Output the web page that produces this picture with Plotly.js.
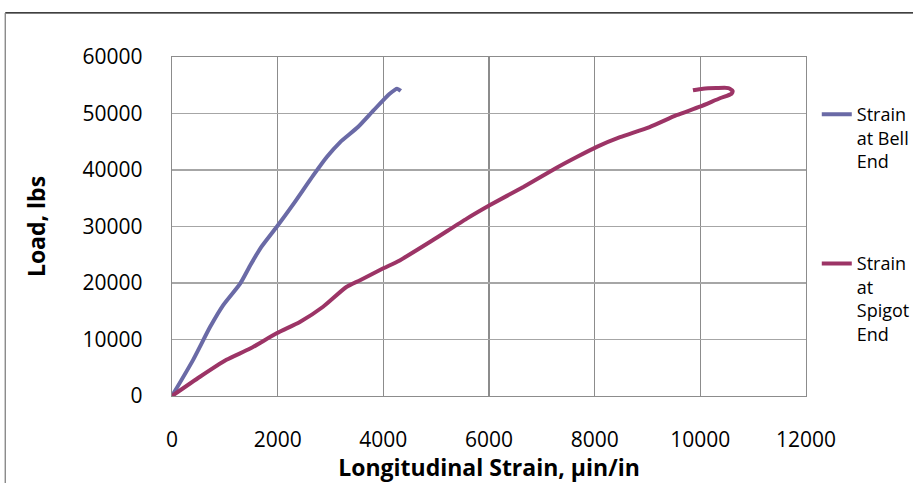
<!DOCTYPE html>
<html>
<head>
<meta charset="utf-8">
<script src="https://cdn.plot.ly/plotly-3.0.1.min.js"></script>
<style>
  html, body { margin: 0; padding: 0; background: #fff; }
  #chart { width: 913px; height: 483px; }
</style>
</head>
<body>
<div id="chart"></div>
<script>
// Strain at Bell End (µin/in) vs load (lbs)
const bellStrain = [0, 400, 720, 970, 1290, 1480, 1670, 1980, 2300, 2670, 2930, 3180, 3520, 3810, 4120, 4260, 4330];
const bellLoad   = [0, 6400, 12200, 16100, 19900, 23100, 26100, 29900, 34000, 39000, 42300, 44900, 47600, 50500, 53500, 54400, 54000];

// Strain at Spigot End (µin/in) vs load (lbs)
const spigotStrain = [0, 530, 1030, 1480, 1980, 2420, 2860, 3300, 3560, 4000, 4310, 4940, 5580, 6020, 6650, 7280, 7660, 8040, 8480, 9040, 9550, 9990, 10370, 10590, 10610, 10530, 10300, 10050, 9860];
const spigotLoad   = [0, 3400, 6400, 8400, 11100, 13100, 15800, 19300, 20500, 22600, 24000, 27600, 31400, 33800, 37000, 40400, 42300, 44100, 45800, 47600, 49700, 51200, 52700, 53500, 54000, 54500, 54500, 54400, 54100];

const seriesNames = ["Strain<br>at Bell<br>End", "Strain<br>at<br>Spigot<br>End"];
const xTicks = [0, 2000, 4000, 6000, 8000, 10000, 12000];
const yTicks = [0, 10000, 20000, 30000, 40000, 50000, 60000];

const traces = [
  {
    x: bellStrain, y: bellLoad, name: seriesNames[0], type: "scatter", mode: "lines",
    line: { color: "#6a6aa6", width: 4, shape: "spline", smoothing: 0.6 },
    legendgroup: "a"
  },
  {
    x: spigotStrain, y: spigotLoad, name: seriesNames[1], type: "scatter", mode: "lines",
    line: { color: "#9c3466", width: 4, shape: "spline", smoothing: 0.6 },
    legendgroup: "b"
  }
];

const layout = {
  width: 913, height: 483,
  margin: { l: 172, r: 107, t: 57, b: 87, autoexpand: false },
  paper_bgcolor: "#fff", plot_bgcolor: "#fff",
  font: { family: "Open Sans, sans-serif", color: "#000" },
  showlegend: true,
  legend: {
    x: 1.017, xanchor: "left", y: 0.885, yanchor: "top",
    font: { size: 18, color: "#000", family: "Open Sans, sans-serif" },
    valign: "top", traceorder: "grouped", tracegroupgap: 76,
    bgcolor: "rgba(0,0,0,0)"
  },
  xaxis: {
    range: [0, 12000], tickvals: xTicks, ticktext: xTicks.map(String),
    showgrid: true, gridcolor: "#8c8c8c", gridwidth: 1.3,
    showline: true, linecolor: "#8c8c8c", linewidth: 1.3, mirror: true,
    zeroline: false, ticks: "", ticklabelstandoff: 24,
    tickfont: { size: 21, family: "Open Sans, sans-serif", color: "#000" },
    title: { text: "Longitudinal Strain, µin/in", standoff: 4,
             font: { size: 23, family: "Open Sans, sans-serif", weight: "bold", color: "#000" } }
  },
  yaxis: {
    range: [0, 60000], tickvals: yTicks, ticktext: yTicks.map(String),
    showgrid: true, gridcolor: "#a6a6a6", gridwidth: 1.3,
    showline: true, linecolor: "#8c8c8c", linewidth: 1.3, mirror: true,
    zeroline: false, ticks: "", ticklabelstandoff: 24,
    tickfont: { size: 21, family: "Open Sans, sans-serif", color: "#000" },
    title: { text: "Load, lbs", standoff: 30,
             font: { size: 23, family: "Open Sans, sans-serif", weight: "bold", color: "#000" } }
  },
  shapes: [
    { type: "line", xref: "paper", yref: "paper", x0: -0.263, x1: 1.2, y0: 1.13, y1: 1.13,
      line: { color: "#000", width: 1.3 } },
    { type: "line", xref: "paper", yref: "paper", x0: -0.263, x1: -0.263, y0: 1.13, y1: -0.3,
      line: { color: "#808080", width: 1.3 } }
  ]
};

Plotly.newPlot("chart", traces, layout, { displayModeBar: false, staticPlot: true });
</script>
</body>
</html>
